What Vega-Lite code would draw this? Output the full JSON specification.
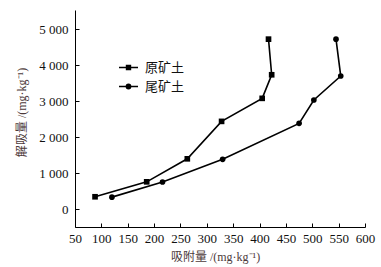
{
  "$schema": "https://vega.github.io/schema/vega-lite/v6.json",
  "width": 290,
  "height": 217,
  "autosize": {"type": "none"},
  "padding": {"left": 75, "top": 10, "right": 16, "bottom": 40},
  "background": "white",
  "config": {
    "view": {"stroke": null},
    "font": "Liberation Serif, Noto Sans CJK SC",
    "axis": {
      "grid": false,
      "domainColor": "#000",
      "domainWidth": 1,
      "tickColor": "#000",
      "tickSize": -4,
      "labelFont": "Liberation Serif",
      "labelFontSize": 13,
      "labelColor": "#111",
      "titleFont": "Liberation Serif, Noto Sans CJK SC",
      "titleFontSize": 12,
      "titleFontWeight": "normal",
      "titleColor": "#4d3a3a"
    }
  },
  "data": {
    "values": [
      {"soil": "原矿土", "i": 1, "x": 88, "y": 340},
      {"soil": "原矿土", "i": 2, "x": 186, "y": 755},
      {"soil": "原矿土", "i": 3, "x": 263, "y": 1395},
      {"soil": "原矿土", "i": 4, "x": 328, "y": 2435},
      {"soil": "原矿土", "i": 5, "x": 405, "y": 3075},
      {"soil": "原矿土", "i": 6, "x": 423, "y": 3730},
      {"soil": "原矿土", "i": 7, "x": 417, "y": 4720},
      {"soil": "尾矿土", "i": 1, "x": 120, "y": 330},
      {"soil": "尾矿土", "i": 2, "x": 216, "y": 750},
      {"soil": "尾矿土", "i": 3, "x": 330, "y": 1380},
      {"soil": "尾矿土", "i": 4, "x": 475, "y": 2380},
      {"soil": "尾矿土", "i": 5, "x": 503, "y": 3030},
      {"soil": "尾矿土", "i": 6, "x": 554, "y": 3695},
      {"soil": "尾矿土", "i": 7, "x": 545, "y": 4720}
    ]
  },
  "encoding": {
    "x": {
      "field": "x",
      "type": "quantitative",
      "scale": {"domain": [50, 600], "nice": false, "zero": false},
      "axis": {
        "values": [50, 100, 150, 200, 250, 300, 350, 400, 450, 500, 550, 600],
        "labelPadding": 9,
        "labelFlush": false,
        "labelOverlap": false,
        "title": "吸附量 /(mg·kg⁻¹)",
        "titleX": 140,
        "titleY": 29,
        "titleBaseline": "middle",
        "titleAnchor": null
      }
    },
    "y": {
      "field": "y",
      "type": "quantitative",
      "scale": {"domain": [-500, 5530], "nice": false, "zero": false},
      "axis": {
        "values": [0, 1000, 2000, 3000, 4000, 5000],
        "labelExpr": "replace(format(datum.value, ','), ',', ' ')",
        "labelPadding": 11,
        "labelFlush": false,
        "title": "解吸量 /(mg·kg⁻¹)",
        "titleX": -54,
        "titleY": 102,
        "titleAngle": -90,
        "titleBaseline": "middle"
      }
    }
  },
  "resolve": {"scale": {"shape": "independent"}},
  "layer": [
    {
      "mark": {"type": "line", "color": "#000", "strokeWidth": 1.6},
      "encoding": {
        "detail": {"field": "soil"},
        "order": {"field": "i"}
      }
    },
    {
      "mark": {"type": "point", "filled": true, "color": "#000", "size": 32, "opacity": 1},
      "encoding": {
        "shape": {
          "field": "soil",
          "type": "nominal",
          "scale": {"domain": ["原矿土", "尾矿土"], "range": ["square", "circle"]},
          "legend": null
        }
      }
    },
    {
      "mark": {"type": "point", "filled": false, "color": "#000", "size": 1, "opacity": 0},
      "encoding": {
        "shape": {
          "field": "soil",
          "type": "nominal",
          "scale": {"domain": ["原矿土", "尾矿土"], "range": ["M-1,0H1M-0.2,-0.2H0.2V0.2H-0.2ZM-0.2,-0.1H0.2M-0.2,0.1H0.2", "M-1,0H1M0.22,0A0.22,0.22,0,1,1,-0.22,0A0.22,0.22,0,1,1,0.22,0ZM0.08,0A0.08,0.08,0,1,1,-0.08,0A0.08,0.08,0,1,1,0.08,0Z"]},
          "legend": {
            "title": null,
            "orient": "none",
            "legendX": 43,
            "legendY": 47,
            "padding": 0,
            "symbolSize": 361,
            "symbolOpacity": 1,
            "symbolStrokeColor": "#000",
            "symbolStrokeWidth": 1.6,
            "labelFont": "Noto Sans CJK SC",
            "labelFontSize": 13,
            "labelColor": "#111",
            "labelOffset": 6,
            "rowPadding": 1,
            "encode": {
              "symbols": {
                "update": {
                  "stroke": {"value": "#000"},
                  "strokeWidth": {"value": 1.6},
                  "opacity": {"value": 1}
                }
              }
            }
          }
        }
      }
    }
  ]
}
